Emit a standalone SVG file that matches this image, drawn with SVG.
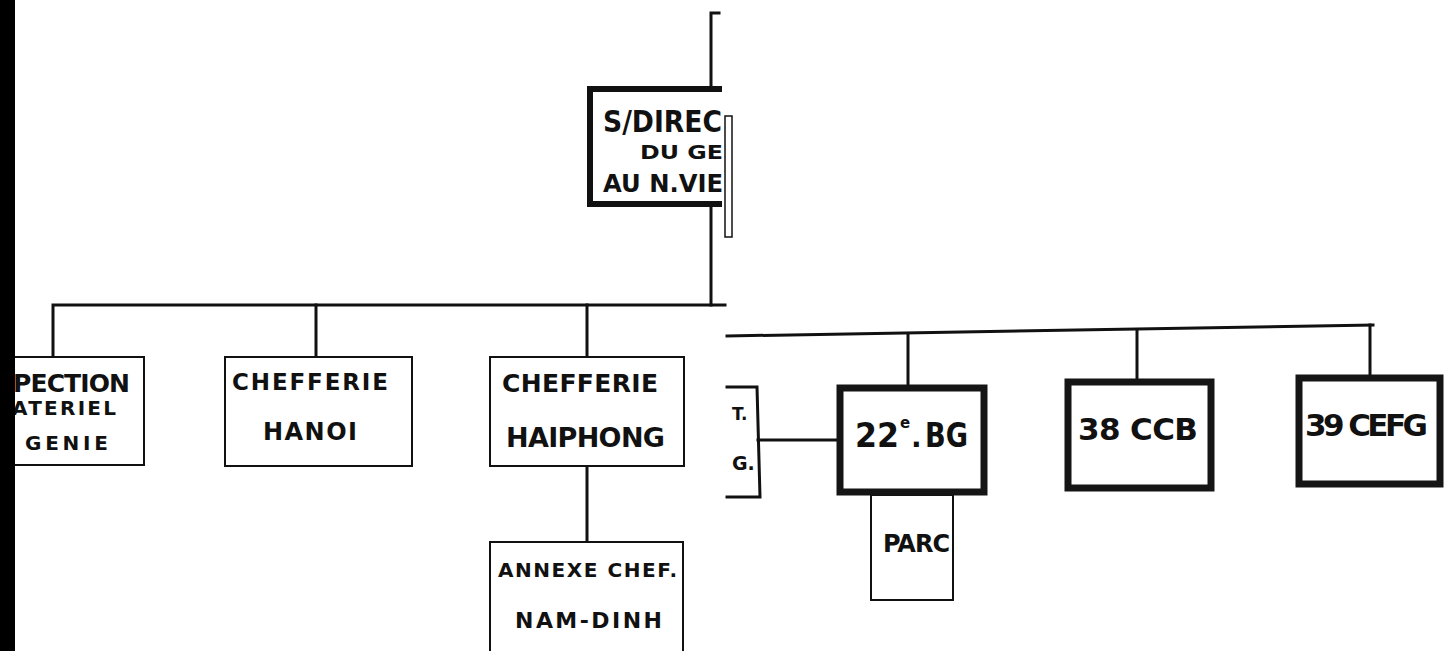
<svg xmlns="http://www.w3.org/2000/svg" width="1446" height="651" viewBox="0 0 1446 651">
<defs>
<style>
.bg{fill:#ffffff}
.ln{stroke:#111;stroke-width:3;fill:none;stroke-linecap:square}
.thin{stroke:#111;stroke-width:2;fill:#fff}
.thick{stroke:#151515;stroke-width:7;fill:#fff}
.t{font-family:"DejaVu Sans","Liberation Sans",sans-serif;font-weight:bold;fill:#111}
</style>
<clipPath id="cutL"><rect x="0" y="0" width="722" height="651"/></clipPath>
</defs>
<rect class="bg" x="0" y="0" width="1446" height="651"/>

<g id="connectors">
<path class="ln" d="M719 13 H711 V86"/>
<path class="ln" d="M711 205 V305"/>
<path class="ln" d="M53 357 V305 H725"/>
<path class="ln" d="M316 305 V357"/>
<path class="ln" d="M587 305 V357"/>
<path class="ln" d="M587 466 V542"/>
<path class="ln" d="M727 336 L1373 325"/>
<path class="ln" d="M908 334 V385"/>
<path class="ln" d="M1137 330 V378"/>
<path class="ln" d="M1370 325 V375"/>
<path class="ln" d="M758 440 H837"/>
</g>

<g id="node-sdirection">
<g clip-path="url(#cutL)">
<rect x="590" y="89" width="160" height="115" fill="#fff" stroke="#111" stroke-width="6"/>
</g>
<text class="t" x="603" y="132" font-size="30" textLength="119" lengthAdjust="spacingAndGlyphs">S/DIREC</text>
<text class="t" x="640" y="159" font-size="20" textLength="83" lengthAdjust="spacingAndGlyphs">DU GE</text>
<text class="t" x="603" y="192" font-size="25" textLength="120" lengthAdjust="spacingAndGlyphs">AU N.VIE</text>
<rect x="725" y="116" width="7" height="121" fill="none" stroke="#111" stroke-width="1.5"/>
</g>

<g id="node-inspection">
<rect class="thin" x="6" y="357" width="138" height="108"/>
<text class="t" x="13" y="392" font-size="25" textLength="117" lengthAdjust="spacing">PECTION</text>
<text class="t" x="12" y="415" font-size="20" textLength="104" lengthAdjust="spacing">ATERIEL</text>
<text class="t" x="25" y="450" font-size="20" textLength="83" lengthAdjust="spacing">GENIE</text>
</g>

<g id="node-hanoi">
<rect class="thin" x="225" y="357" width="187" height="109"/>
<text class="t" x="232" y="390" font-size="23" textLength="156" lengthAdjust="spacing">CHEFFERIE</text>
<text class="t" x="263" y="440" font-size="24" textLength="94" lengthAdjust="spacing">HANOI</text>
</g>

<g id="node-haiphong">
<rect class="thin" x="490" y="357" width="194" height="109"/>
<text class="t" x="502" y="392" font-size="25" textLength="156" lengthAdjust="spacing">CHEFFERIE</text>
<text class="t" x="506" y="447" font-size="27" textLength="159" lengthAdjust="spacing">HAIPHONG</text>
</g>

<g id="node-namdinh">
<rect class="thin" x="490" y="542" width="193" height="120"/>
<text class="t" x="498" y="577" font-size="20" textLength="179" lengthAdjust="spacing">ANNEXE CHEF.</text>
<text class="t" x="515" y="628" font-size="22" textLength="147" lengthAdjust="spacing">NAM-DINH</text>
</g>

<g id="node-tg">
<path class="ln" d="M727 387 H757 L760 497 H727" stroke-width="2"/>
<text class="t" x="732" y="420" font-size="17">T.</text>
<text class="t" x="732" y="470" font-size="19">G.</text>
</g>

<g id="node-22bg">
<rect class="thin" x="871" y="495" width="82" height="105"/>
<text class="t" x="883" y="552" font-size="24" textLength="67" lengthAdjust="spacing">PARC</text>
<rect class="thick" x="840" y="388" width="144" height="104"/>
<text class="t" font-size="34"><tspan x="855" y="447" textLength="44" lengthAdjust="spacingAndGlyphs">22</tspan><tspan x="900" y="428" font-size="15">e</tspan><tspan x="911" y="447" font-size="28">.</tspan><tspan x="925" y="447" textLength="43" lengthAdjust="spacingAndGlyphs">BG</tspan></text>
</g>

<g id="node-38ccb">
<rect class="thick" x="1068" y="382" width="143" height="106"/>
<text class="t" x="1078" y="440" font-size="31" textLength="120" lengthAdjust="spacing">38 CCB</text>
</g>

<g id="node-39cefg">
<rect class="thick" x="1299" y="378" width="141" height="106"/>
<text class="t" x="1305" y="436" font-size="31" textLength="123" lengthAdjust="spacing">39 CEFG</text>
</g>

<rect x="0" y="0" width="15" height="651" fill="#000"/>
</svg>
